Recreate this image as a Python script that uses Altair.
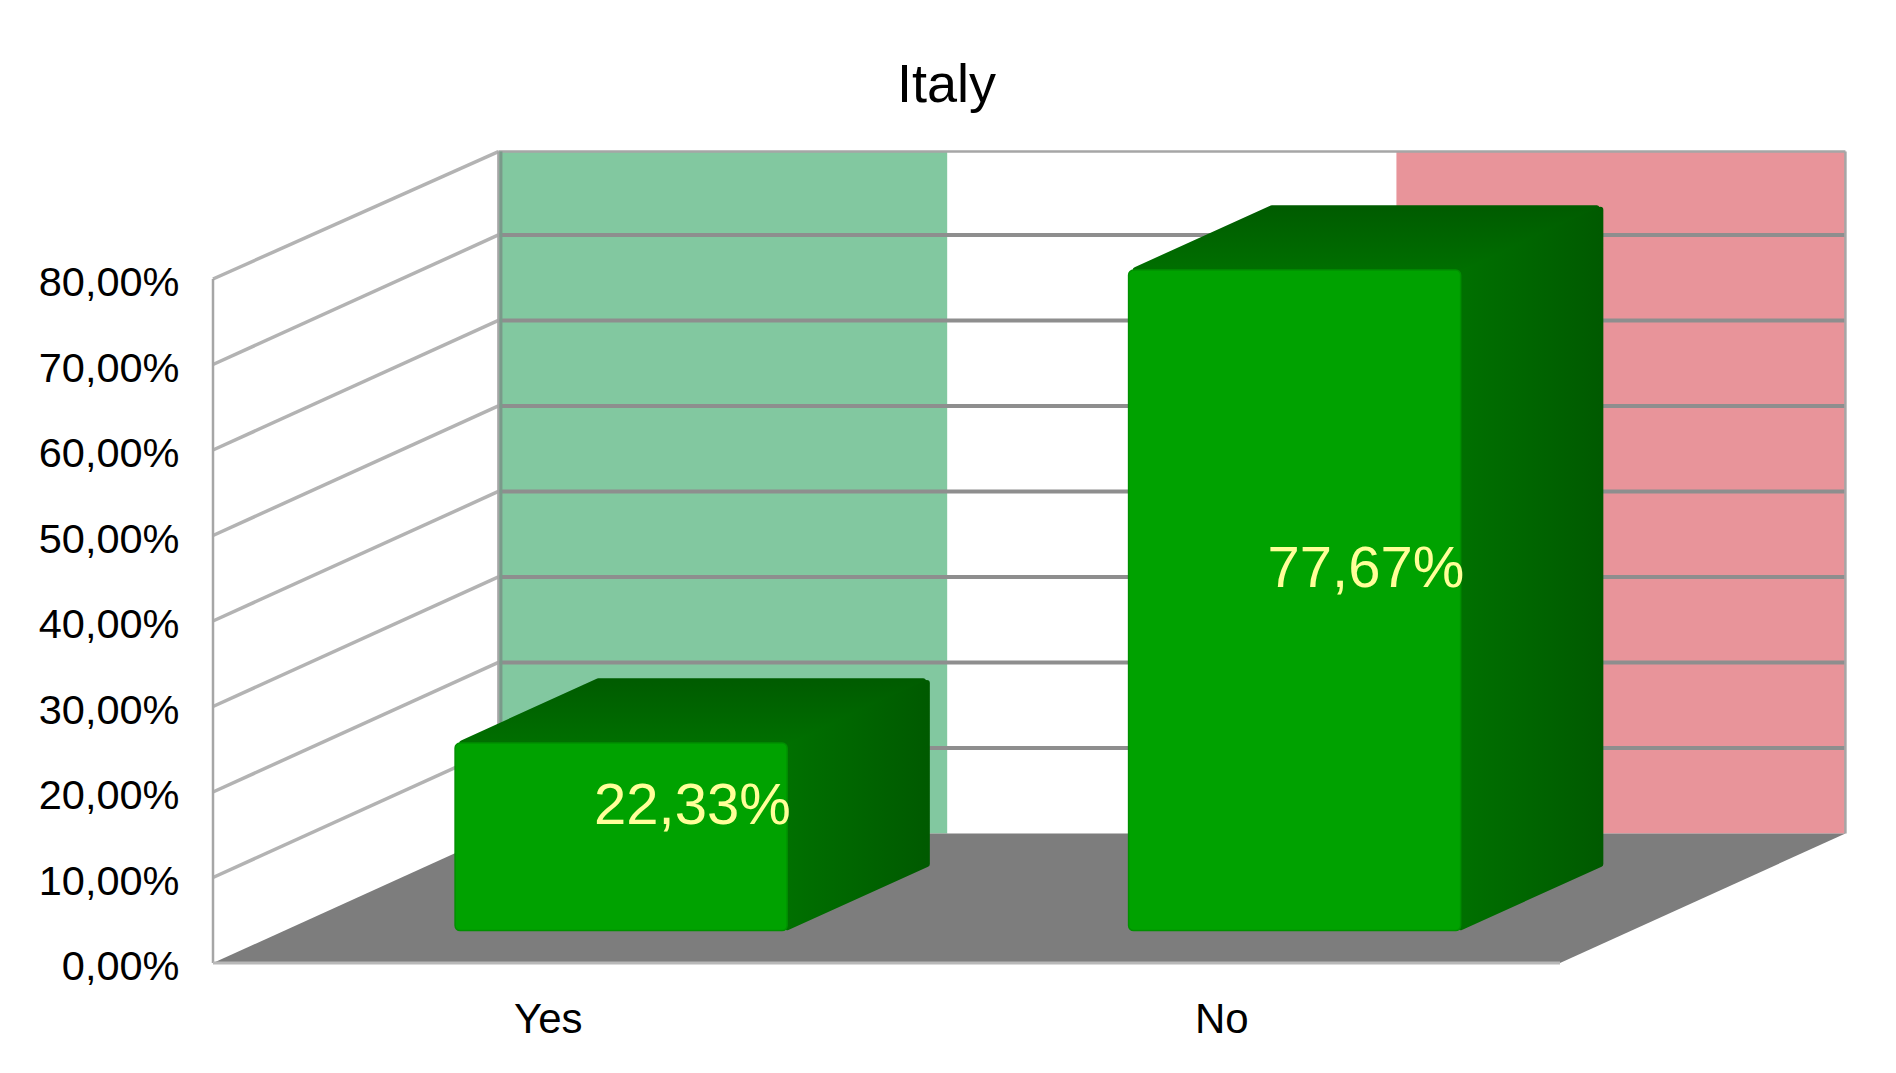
import altair as alt
import pandas as pd

categories = ["Yes", "No"]
values = [22.33, 77.67]
y_ticks = [0, 10, 20, 30, 40, 50, 60, 70, 80]
flag_colors = ["#82C8A0", "#FFFFFF", "#E8949A"]
chart_title = "Italy"

DEPTH_X = 0.4238   # category units spanned by the full depth
DEPTH_Y = 15.15    # percentage points spanned by the full depth
BAR_WIDTH = 0.493
BAR_NEAR = 0.25
BAR_FAR = 0.75
TOP_INSET = 0.4
Y_MAX = 80
X_MAX = 2
WALL_TOP = 79.75
PX_X = 673.5       # pixels per category
PX_Y = 8.55        # pixels per percentage point
ROUND = 3          # corner radius of the bars, in pixels

FONT = "Liberation Sans"
xs = alt.Scale(domain=[0, X_MAX], nice=False, zero=False)
ys = alt.Scale(domain=[0, Y_MAX], nice=False, zero=False)

x_axis = alt.Axis(
    values=[i + 0.5 for i in range(len(categories))],
    labelExpr="datum.value < 1 ? '%s' : '%s'" % tuple(categories),
    grid=False, domain=False, ticks=False, labelFont=FONT, labelFontSize=42,
    labelColor="#000000", labelPadding=36, labelOverlap=False, labelFlush=False,
    labelOffset=-2, title=None,
)
y_axis = alt.Axis(
    values=y_ticks,
    labelExpr="replace(format(datum.value, '.2f'), '.', ',') + '%'",
    grid=False, domain=False, ticks=False, labelFont=FONT, labelFontSize=41.5,
    labelColor="#000000", labelPadding=34, labelOverlap=False, labelFlush=False,
    labelOffset=4.5, title=None,
)
X = alt.X("x:Q", scale=xs, axis=x_axis)
Y = alt.Y("y:Q", scale=ys, axis=y_axis)


def lines(rows, color, width, op=1.0):
    return alt.Chart(pd.DataFrame(rows)).mark_line(
        color=color, strokeWidth=width, opacity=op, clip=False
    ).encode(x=X, y=Y, detail="k:N")


def grad(c1, c2, horizontal=False):
    return alt.LinearGradient(
        gradient="linear",
        stops=[alt.GradientStop(color=c1, offset=0), alt.GradientStop(color=c2, offset=1)],
        x1=0, x2=1 if horizontal else 0, y1=0, y2=0 if horizontal else 1,
    )


# Back wall
wall = pd.DataFrame([
    {"x": DEPTH_X + i * X_MAX / 3, "x2": DEPTH_X + (i + 1) * X_MAX / 3,
     "y": DEPTH_Y, "y2": DEPTH_Y + WALL_TOP, "c": c}
    for i, c in enumerate(flag_colors)
])
wall_layer = alt.Chart(wall).mark_rect(clip=False).encode(
    x=X, x2="x2:Q", y=Y, y2="y2:Q", color=alt.Color("c:N", scale=None),
)

side_rows = []
back_rows = []
for t in y_ticks:
    if t == 0:
        continue
    top = t + DEPTH_Y if t < Y_MAX else WALL_TOP + DEPTH_Y
    side_rows += [{"k": t, "x": 0, "y": t}, {"k": t, "x": DEPTH_X, "y": top}]
    if t < Y_MAX:
        back_rows += [{"k": t, "x": DEPTH_X, "y": t + DEPTH_Y},
                      {"k": t, "x": DEPTH_X + X_MAX, "y": t + DEPTH_Y}]
side_lines = lines(side_rows, "#B3B3B3", 3.5)
back_lines = lines(back_rows, "#8E8E8E", 4)
wall_edge = 2.5 / PX_X
outline = lines(
    [{"k": "a", "x": 0, "y": 0}, {"k": "a", "x": 0, "y": Y_MAX},
     {"k": "b", "x": DEPTH_X, "y": DEPTH_Y}, {"k": "b", "x": DEPTH_X, "y": DEPTH_Y + WALL_TOP},
     {"k": "c", "x": DEPTH_X + X_MAX, "y": DEPTH_Y}, {"k": "c", "x": DEPTH_X + X_MAX, "y": DEPTH_Y + WALL_TOP},
     {"k": "d", "x": DEPTH_X, "y": DEPTH_Y + WALL_TOP}, {"k": "d", "x": DEPTH_X + X_MAX, "y": DEPTH_Y + WALL_TOP}],
    "#A6A6A6", 2.5,
)
wall_shade = lines(
    [{"k": "s", "x": DEPTH_X + wall_edge, "y": DEPTH_Y},
     {"k": "s", "x": DEPTH_X + wall_edge, "y": DEPTH_Y + WALL_TOP}],
    "#7A9A8A", 3,
)

# Floor
floor_df = pd.DataFrame([
    {"y": 0, "x": 0, "x2": X_MAX},
    {"y": DEPTH_Y, "x": DEPTH_X, "x2": DEPTH_X + X_MAX},
])
floor = alt.Chart(floor_df).mark_area(orient="horizontal", color="#7D7D7D", clip=False).encode(
    y=Y, x=X, x2="x2:Q",
)
floor_edge = lines([{"k": "e", "x": 0, "y": 0}, {"k": "e", "x": X_MAX, "y": 0}], "#B8B8B8", 3)

# Bars
bar_layers = []
label_rows = []
for i, v in enumerate(values):
    x0 = i + 0.5 - BAR_WIDTH / 2 + BAR_NEAR * DEPTH_X
    x1 = x0 + BAR_WIDTH
    dx = (BAR_FAR - BAR_NEAR) * DEPTH_X
    dy = (BAR_FAR - BAR_NEAR) * DEPTH_Y
    y0 = BAR_NEAR * DEPTH_Y
    y1 = v + y0 - TOP_INSET

    # Slant of the receding edges, used to pull the polygons in by the corner radius
    dx_px, dy_px = dx * PX_X, dy * PX_Y
    edge = (dx_px ** 2 + dy_px ** 2) ** 0.5
    shift_x = ROUND * edge / dy_px / PX_X
    shift_y = ROUND * edge / dx_px / PX_Y
    r_x, r_y = ROUND / PX_X, ROUND / PX_Y

    top_y = y1 + dy - r_y
    frac = (top_y - y1) / dy
    top_df = pd.DataFrame([
        {"y": y1, "x": x0 + shift_x, "x2": x1},
        {"y": top_y, "x": x0 + frac * dx + shift_x, "x2": x1 + frac * dx},
    ])
    top_grad = grad("#005C00", "#006F00")
    bar_layers.append(
        alt.Chart(top_df).mark_area(
            orient="horizontal", clip=False, color=top_grad,
            stroke=top_grad, strokeWidth=2 * ROUND, strokeJoin="round",
        ).encode(y=Y, x=X, x2="x2:Q")
    )
    right = x1 + dx - r_x
    frac = (right - x1) / dx
    side_df = pd.DataFrame([
        {"x": x1, "y": y0 + shift_y, "y2": y1 - shift_y},
        {"x": right, "y": y0 + frac * dy + shift_y, "y2": y1 + frac * dy - shift_y},
    ])
    side_grad = grad("#007000", "#005A00", True)
    bar_layers.append(
        alt.Chart(side_df).mark_area(
            orient="vertical", clip=False, color=side_grad,
            stroke=side_grad, strokeWidth=2 * ROUND, strokeJoin="round",
        ).encode(x=X, y=Y, y2="y2:Q")
    )
    front_df = pd.DataFrame([{"x": x0, "x2": x1, "y": y0, "y2": y1}])
    bar_layers.append(
        alt.Chart(front_df).mark_rect(
            color="#00A200", cornerRadius=5, stroke="#009000", strokeWidth=1.5, clip=False,
        ).encode(x=X, x2="x2:Q", y=Y, y2="y2:Q")
    )
    label_rows.append({
        "x": i + 0.5 + 0.5 * DEPTH_X,
        "y": v / 2 + 0.5 * DEPTH_Y,
        "t": f"{v:.2f}".replace(".", ",") + "%",
    })

labels = alt.Chart(pd.DataFrame(label_rows)).mark_text(
    font=FONT, fontSize=58, color="#FFFF99", align="center", baseline="middle", clip=False,
    dy=4,
).encode(x=X, y=Y, text="t:N")

chart = alt.layer(
    side_lines, wall_layer, back_lines, outline, wall_shade, floor, floor_edge, *bar_layers, labels
).properties(
    width=1347,
    height=684,
    background="#FFFFFF",
    autosize=alt.AutoSizeParams(type="none"),
    padding={"left": 205, "top": 271, "right": 328, "bottom": 102},
    title=alt.TitleParams(
        chart_title, font=FONT, fontSize=54, fontWeight="normal", color="#000000",
        anchor="middle", dx=60, offset=32,
    ),
).configure_view(stroke=None)

chart.save("out.html", embed_options={"renderer": "svg", "actions": False})
